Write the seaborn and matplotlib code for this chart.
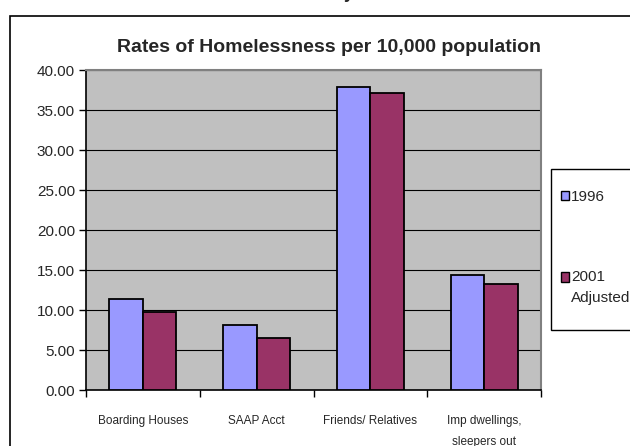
import matplotlib
matplotlib.use("Agg")
import matplotlib.pyplot as plt
import matplotlib.patches as mpatches
import seaborn as sns
import pandas as pd
from matplotlib.ticker import FormatStrFormatter

categories = ["Boarding Houses", "SAAP Acct", "Friends/ Relatives", "Imp dwellings,\nsleepers out"]
series_names = ["1996", "2001\nAdjusted"]
values_1996 = [11.4, 8.1, 37.9, 14.4]
values_2001 = [9.7, 6.5, 37.1, 13.3]
yticks = [0, 5, 10, 15, 20, 25, 30, 35, 40]
colors = ["#9999FF", "#993366"]

df = pd.DataFrame({
    "category": categories * 2,
    "series": [series_names[0]] * 4 + [series_names[1]] * 4,
    "value": values_1996 + values_2001,
})

sns.set_theme(style="white")
plt.rcParams["font.family"] = ["Liberation Sans", "DejaVu Sans"]

fig = plt.figure(figsize=(6.3, 4.46), dpi=100)
ax = fig.add_axes([86/630, 1 - 390/446, (541-86)/630, (390-70)/446])

sns.barplot(data=df, x="category", y="value", hue="series", order=categories,
            hue_order=series_names, palette=colors, width=0.59, ax=ax,
            edgecolor="black", linewidth=1.3, saturation=1, legend=False, zorder=3)

ax.set_facecolor("#C0C0C0")
ax.set_ylim(0, 40)
ax.set_xlim(-0.5, 3.5)
ax.set_yticks(yticks)
ax.yaxis.set_major_formatter(FormatStrFormatter("%.2f"))
ax.yaxis.grid(True, color="black", linewidth=0.8, zorder=0)
ax.set_axisbelow(True)
ax.set_xlabel("")
ax.set_ylabel("")

ax.set_xticks([0, 1, 2, 3])
ax.set_xticklabels(categories, fontsize=8.5, linespacing=1.95, va="top")
ax.set_xticks([-0.5, 0.5, 1.5, 2.5, 3.5], minor=True)
ax.tick_params(axis="x", which="major", length=0, pad=18)
ax.tick_params(axis="x", which="minor", length=5, width=1, color="black", direction="out", bottom=True)
ax.tick_params(axis="y", which="major", length=5, width=1, color="black", direction="out",
               left=True, labelsize=11, pad=3)

for s in ["left", "bottom"]:
    ax.spines[s].set_color("black")
    ax.spines[s].set_linewidth(1.2)
for s in ["top", "right"]:
    ax.spines[s].set_color("#808080")
    ax.spines[s].set_linewidth(1.5)

ax.set_title("Rates of Homelessness per 10,000 population", fontsize=14,
             fontweight="bold", pad=13)
ax.title.set_position((0.535, 1))

# outer chart border (extends beyond figure on right/bottom)
border = mpatches.Rectangle((10/630, -0.1), 1.0, 1 - 16/446 + 0.1,
                            transform=fig.transFigure, fill=False,
                            edgecolor="black", linewidth=1.2)
fig.add_artist(border)

# partially visible text at top
fig.text(349/630, 1.004, "y", fontsize=13, fontweight="bold", ha="center", va="baseline")

# legend frame
lframe = mpatches.Rectangle((551/630, 1 - 330/446), 0.2, (330 - 169)/446,
                            transform=fig.transFigure, fill=True, facecolor="white",
                            edgecolor="black", linewidth=1.0, zorder=1)
fig.add_artist(lframe)

handles = [mpatches.Patch(facecolor=c, edgecolor="black", linewidth=1) for c in colors]
leg = fig.legend(handles, series_names, loc="upper left",
                 bbox_to_anchor=(561/630, 1 - 190/446), frameon=False,
                 fontsize=11, handlelength=0.55, handleheight=0.55, handletextpad=0.1,
                 labelspacing=4.3, borderpad=0, borderaxespad=0)
leg.set_zorder(2)
for t in leg.get_texts():
    t.set_linespacing(1.7)
h2 = leg.legend_handles[1]
h2.set_y(h2.get_y() + 7.6)

fig.savefig("out.png", dpi=100)
